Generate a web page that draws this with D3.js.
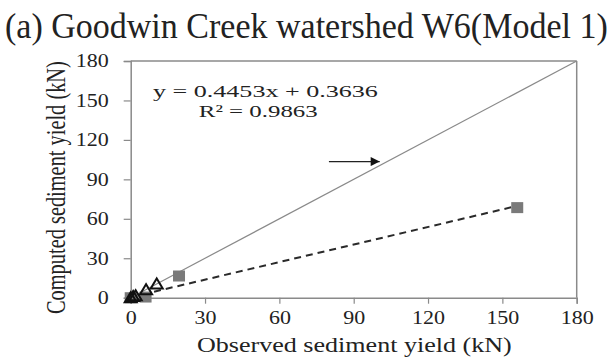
<!DOCTYPE html>
<html><head><meta charset="utf-8">
<script src="https://cdn.jsdelivr.net/npm/d3@7"></script>
<style>body{margin:0;background:#fff}svg{display:block}</style>
</head><body><svg id="c" width="614" height="361"></svg>
<script>
const title = "(a) Goodwin Creek watershed W6(Model 1)";
const xLabel = "Observed sediment yield (kN)";
const yLabel = "Computed sediment yield (kN)";
const xTicks = [0, 30, 60, 90, 120, 150, 180];
const yTicks = [0, 30, 60, 90, 120, 150, 180];
const squareObs = [0, 6, 19.5, 156];
const squareCom = [0, 0.5, 16.5, 68.5];
const triObs = [0, 1, 2, 6.2, 10.5];
const triCom = [0, 1, 1.5, 6, 10.5];
const slope = 0.4453, intercept = 0.3636, r2 = 0.9863;
const oneToOne = [0, 180];
const arrowX = [80, 100.5], arrowY = 103.5;

const FONT = '"Liberation Serif", "Times New Roman", serif';
const svg = d3.select("#c");
const x = d3.scaleLinear().domain([0, 180]).range([130.7, 576.7]);
const y = d3.scaleLinear().domain([0, 180]).range([297.7, 61]);
const axisCol = "#8a8a8a";
const txt = (sel) => sel.style("font-family", FONT).style("fill", "#222");

// text fitted to a target width by horizontal scaling (keeps real bbox)
function fitText(str, px, py, size, width, rot) {
  const t = svg.append("text").attr("font-size", size).call(txt).text(str);
  const w = t.node().getComputedTextLength();
  const s = width / w;
  t.attr("transform", `translate(${px},${py})` + (rot ? ` rotate(${rot})` : "") + ` scale(${s},1)`);
  return t;
}

// title
fitText(title, 5, 38, 35, 603);

// box top/right
svg.append("line").attr("x1", x(0)).attr("x2", x(180)).attr("y1", y(180)).attr("y2", y(180))
  .attr("stroke", axisCol).attr("stroke-width", 1.5);
svg.append("line").attr("x1", x(180)).attr("x2", x(180)).attr("y1", y(0)).attr("y2", y(180))
  .attr("stroke", axisCol).attr("stroke-width", 1.5);

const gx = svg.append("g").attr("transform", `translate(0,${y(0)})`)
  .call(d3.axisBottom(x).tickValues(xTicks).tickSize(6).tickPadding(8).tickFormat(d3.format("d")));
const gy = svg.append("g").attr("transform", `translate(${x(0)},0)`)
  .call(d3.axisLeft(y).tickValues(yTicks).tickSize(7).tickPadding(15).tickFormat(d3.format("d")));
[gx, gy].forEach(g => {
  g.attr("font-family", null);
  g.select(".domain").attr("stroke", axisCol).attr("stroke-width", 1.5);
  g.selectAll(".tick line").attr("stroke", axisCol).attr("stroke-width", 1.2);
  g.selectAll(".tick text").attr("font-size", 18).call(txt);
});
gx.selectAll(".tick text").attr("dy", "0.71em");
// widen tick labels (reference digits are ~11px wide)
[gx, gy].forEach((g, k) => g.selectAll(".tick text").each(function(d) {
  const el = d3.select(this);
  const w = this.getComputedTextLength();
  const s = String(d).length * 11 / w;
  const ax = k === 0 ? 0 : -(7 + 15);
  const ay = k === 0 ? 6 + 8 : 0;
  el.attr("x", null).attr("y", null)
    .attr("transform", `translate(${ax},${ay}) scale(${s},1)`);
}));

// axis labels
fitText(xLabel, 197, 352, 21, 315);
fitText(yLabel, 65, 314, 27, 253, -90);

// 1:1 line
svg.append("line").attr("x1", x(oneToOne[0])).attr("y1", y(oneToOne[0]))
  .attr("x2", x(oneToOne[1])).attr("y2", y(oneToOne[1])).attr("stroke", "#8a8a8a").attr("stroke-width", 1.2);

// regression dashed
const xmax = d3.max(squareObs);
svg.append("line").attr("x1", x(0)).attr("y1", y(intercept))
  .attr("x2", x(xmax)).attr("y2", y(slope * xmax + intercept))
  .attr("stroke", "#2a2a2a").attr("stroke-width", 2).attr("stroke-dasharray", "7,5");

// squares
svg.selectAll("rect.sq").data(squareObs).join("rect").attr("class", "sq")
  .attr("x", (d) => x(d) - 6).attr("y", (d, i) => y(squareCom[i]) - 5.5)
  .attr("width", 12).attr("height", 11).attr("fill", "#7a7a7a");

// triangles
svg.selectAll("path.tri").data(triObs).join("path").attr("class", "tri")
  .attr("d", (d, i) => {
    const cx = x(d), cy = y(triCom[i]);
    return `M${cx - 6},${cy + 4.5}L${cx + 6},${cy + 4.5}L${cx},${cy - 5.5}Z`;
  }).attr("fill", "none").attr("stroke", "#111").attr("stroke-width", 2);

// arrow
svg.append("defs").append("marker").attr("id", "ah").attr("viewBox", "0 0 10 10")
  .attr("refX", 10).attr("refY", 5).attr("markerWidth", 13).attr("markerHeight", 9)
  .attr("markerUnits", "userSpaceOnUse").attr("orient", "auto")
  .append("path").attr("d", "M0,0L10,5L0,10Z").attr("fill", "#111");
svg.append("line").attr("x1", x(arrowX[0])).attr("x2", x(arrowX[1]))
  .attr("y1", y(arrowY)).attr("y2", y(arrowY)).attr("stroke", "#222").attr("stroke-width", 1.2)
  .attr("marker-end", "url(#ah)");

// equation
fitText(`y = ${slope}x + ${intercept}`, x(9), y(152.7), 17, 225);
fitText(`R² = ${r2}`, x(27.5), y(137.5), 17, 119);
</script></body></html>
